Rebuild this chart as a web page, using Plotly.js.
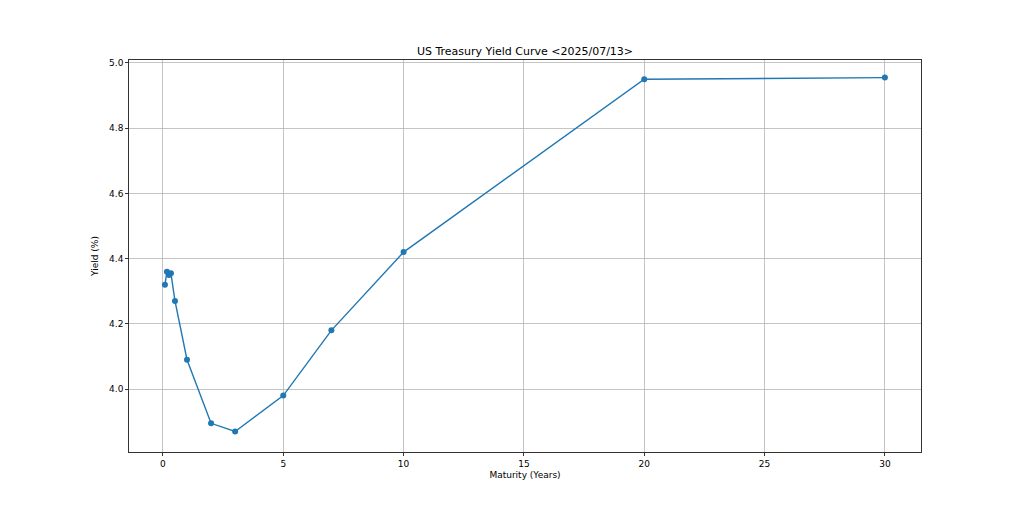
<!DOCTYPE html>
<html>
<head>
<meta charset="utf-8">
<script src="https://cdn.plot.ly/plotly-3.0.1.min.js"></script>
<style>html,body{margin:0;padding:0;background:#fff;}#chart{width:1024px;height:505px;}</style>
</head>
<body>
<div id="chart"></div>
<script>
const maturities = [1/12, 2/12, 3/12, 4/12, 0.5, 1, 2, 3, 5, 7, 10, 20, 30];
const yields = [4.32, 4.36, 4.35, 4.355, 4.27, 4.09, 3.895, 3.87, 3.98, 4.18, 4.42, 4.95, 4.955];
const chartTitle = "US Treasury Yield Curve <2025/07/13>";
const xLabel = "Maturity (Years)";
const yLabel = "Yield (%)";

const fam = "DejaVu Sans, sans-serif";
const font = {family: fam, size: 9, color: "#000"};
const trace = {
  x: maturities, y: yields, type: "scatter", mode: "lines+markers",
  line: {color: "#1f77b4", width: 1.4},
  marker: {color: "#1f77b4", size: 6},
  hoverinfo: "x+y"
};
const axisBase = {
  showline: true, mirror: true, linecolor: "#000", linewidth: 0.8,
  ticks: "outside", ticklen: 3, tickcolor: "#000", tickwidth: 0.8,
  showgrid: true, gridcolor: "#b0b0b0", gridwidth: 0.75,
  zeroline: false, tickfont: {family: fam, size: 9, color: "#000"}
};
const layout = {
  width: 1024, height: 505,
  margin: {l: 129, r: 103, t: 60, b: 53},
  paper_bgcolor: "#fff", plot_bgcolor: "#fff",
  font: font,
  showlegend: false,
  title: {text: chartTitle, font: {family: fam, size: 11, color: "#000"},
          x: 0.5, xref: "paper", xanchor: "center", y: 1, yref: "paper", yanchor: "bottom", pad: {b: 5}},
  xaxis: Object.assign({}, axisBase, {
    range: [-1.41, 31.5], dtick: 5, tick0: 0,
    title: {text: xLabel, font: {family: fam, size: 9, color: "#000"}, standoff: 4}
  }),
  yaxis: Object.assign({}, axisBase, {
    range: [3.807, 5.009], dtick: 0.2, tick0: 4.0, tickformat: ".1f",
    title: {text: yLabel, font: {family: fam, size: 9, color: "#000"}, standoff: 8}
  })
};
Plotly.newPlot("chart", [trace], layout, {displayModeBar: false, staticPlot: true});
</script>
</body>
</html>
